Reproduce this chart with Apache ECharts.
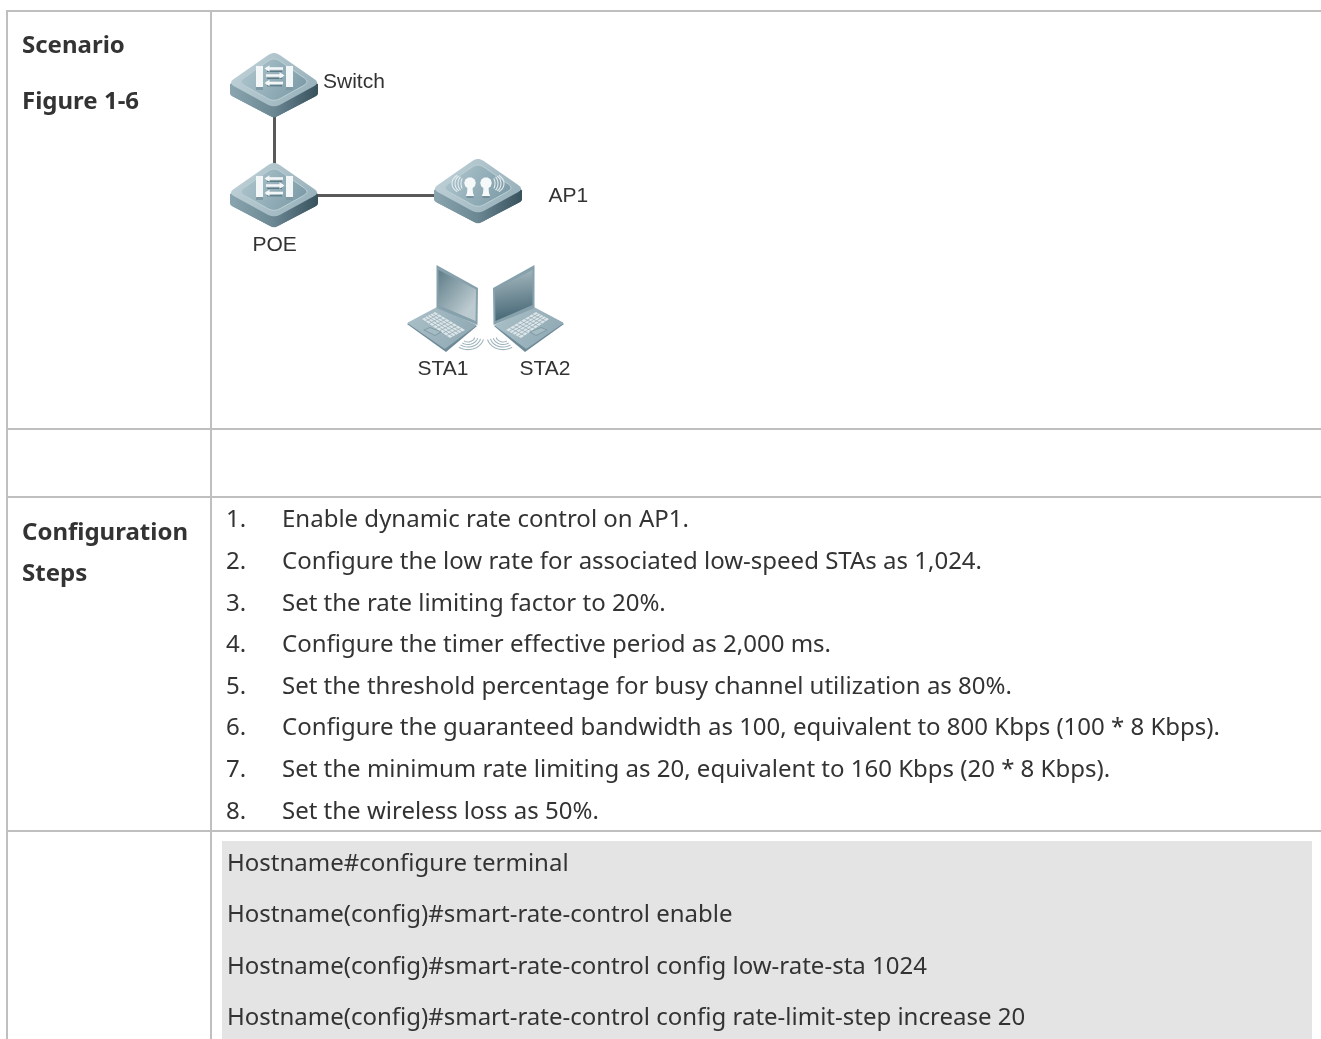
<!DOCTYPE html>
<html><head><meta charset="utf-8">
<style>html,body{margin:0;padding:0;background:#fff}#c{width:1321px;height:1039px}</style>
<script src="https://cdn.jsdelivr.net/npm/echarts@6/dist/echarts.min.js"></script>
</head><body><div id="c"></div>
<script>
const nodeNames = ['Switch','POE','AP1','STA1','STA2'];
const nodeKinds = ['switch','switch','ap','laptop','laptopMirror'];
const nodeX = [274,274,478,443,528];
const nodeY = [85,195,195,308,308];
const labelX = [323,252.5,548.5,417.5,519.5];
const labelY = [82.5,245.5,196.5,369.5,369.5];
const links = [[0,1],[1,2]];
const leftHeads = ['Scenario','Figure 1-6','Configuration','Steps'];
const leftHeadY = [46,102,533,574];
const stepNumbers = ['1.','2.','3.','4.','5.','6.','7.','8.'];
const stepTexts = [
 'Enable dynamic rate control on AP1.',
 'Configure the low rate for associated low-speed STAs as 1,024.',
 'Set the rate limiting factor to 20%.',
 'Configure the timer effective period as 2,000 ms.',
 'Set the threshold percentage for busy channel utilization as 80%.',
 'Configure the guaranteed bandwidth as 100, equivalent to 800 Kbps (100 * 8 Kbps).',
 'Set the minimum rate limiting as 20, equivalent to 160 Kbps (20 * 8 Kbps).',
 'Set the wireless loss as 50%.'];
const stepY = [520,562,604,645,687,728,770,812];
const codeLines = [
 'Hostname#configure terminal',
 'Hostname(config)#smart-rate-control enable',
 'Hostname(config)#smart-rate-control config low-rate-sta 1024',
 'Hostname(config)#smart-rate-control config rate-limit-step increase 20'];
const codeY = [864,915,967,1018];
const ruleRows = [11,429,497,831];
const ruleCols = [7,211];

const grad = (x,y,x2,y2,a,b,c) => ({type:'linear',x,y,x2,y2,colorStops:
  c ? [{offset:0,color:a},{offset:.5,color:b},{offset:1,color:c}] : [{offset:0,color:a},{offset:1,color:b}]});

function rounded(pts,r){
  const out=[];const n=pts.length;
  for(let i=0;i<n;i++){
    const p=pts[i],a=pts[(i+n-1)%n],b=pts[(i+1)%n];
    const da=Math.hypot(a[0]-p[0],a[1]-p[1]),db=Math.hypot(b[0]-p[0],b[1]-p[1]);
    const s=[p[0]+(a[0]-p[0])*r/da,p[1]+(a[1]-p[1])*r/da],e=[p[0]+(b[0]-p[0])*r/db,p[1]+(b[1]-p[1])*r/db];
    for(let t=0;t<=1.001;t+=.2){
      out.push([(1-t)*(1-t)*s[0]+2*t*(1-t)*p[0]+t*t*e[0],(1-t)*(1-t)*s[1]+2*t*(1-t)*p[1]+t*t*e[1]]);
    }
  }
  return out;
}
function arcPts(cx,cy,rx,ry,a0,a1){
  const o=[];for(let i=0;i<=10;i++){const a=(a0+(a1-a0)*i/10)*Math.PI/180;o.push([cx+rx*Math.cos(a),cy+ry*Math.sin(a)]);}
  return o;
}
function builder(ox,oy,m){
  const tr=p=>p.map(q=>[ox+m*q[0],oy+q[1]]);
  return {
    poly:(p,fill,z,stroke,lw)=>({type:'polygon',shape:{points:tr(p)},style:{fill,stroke:stroke||null,lineWidth:lw||0},z2:z}),
    line:(p,stroke,lw,z)=>({type:'polyline',shape:{points:tr(p)},style:{fill:null,stroke,lineWidth:lw},z2:z})
  };
}
function deviceBase(b){
  const c=[];
  c.push(b.poly(rounded([[-44,-1],[-44,11],[0,34],[44,11],[44,-1],[0,-31]],5),grad(0,0,1,0,'#86a2ac','#5d7b87','#3a5460'),1));
  c.push(b.poly(rounded([[0,21],[0,34],[44,11],[44,-1]],2),grad(0,0,1,0,'#6a8692','#38525d'),2));
  c.push(b.poly(rounded([[-44,-1],[-44,11],[0,34],[0,21]],2),grad(0,0,1,0,'#8aa5af','#6a8792'),2));
  c.push(b.poly(rounded([[0,-33],[46,-1],[0,24],[-46,-1]],7),grad(0,0,1,1,'#c3d4da','#93adb7'),3));
  c.push(b.poly(rounded([[0,-27],[36,-2],[0,18],[-36,-2]],7),grad(0,0,1,1,'#b2c8d0','#7696a2'),4,'#bccfd5',1));
  return c;
}
function drawSwitch(ox,oy){
  const b=builder(ox,oy,1);const c=deviceBase(b);
  [[-18,-11],[12,19]].forEach(x=>{
    c.push(b.poly([[x[0],-18],[x[1],-18],[x[1],6],[x[0],6]],'#f4f7f8',6));
    c.push(b.poly([[x[0],3],[x[1],3],[x[1],6],[x[0],6]],'#7f9aa4',7));
  });
  [[-15.5,1],[-8.5,-1],[-1,1]].forEach(r=>{
    const y=r[0];const dir=r[1];
    c.push(b.line([[-8,y],[9,y]],'#f4f7f8',2.6,6));
    const t=dir>0?-9.5:10.5, s=dir>0?1:-1;
    c.push(b.poly([[t,y],[t+s*5,y-3.2],[t+s*5,y+3.2]],'#f4f7f8',6));
    c.push(b.line([[-7,y+2.8],[8,y+2.8]],'#4f6d79',1,5));
  });
  return c;
}
function drawAP(ox,oy){
  const b=builder(ox,oy-5,1);const c=deviceBase(b);
  [-8,8].forEach(x=>{
    c.push(b.poly(arcPts(x,-7,5.8,5.8,0,360),'#f6f9fa',6));
    c.push(b.poly([[x-2.4,-4],[x+2.4,-4],[x+3,3],[x+4.2,6],[x-4.2,6],[x-3,3]],'#f6f9fa',6));
    c.push(b.line([[x-3.5,7],[x+3.5,7]],'#58757f',1,5));
  });
  [-1,1].forEach(d=>{
    [[3,6],[6,8],[9,9],[12,10]].forEach(r=>{
      const ang=d>0?[-55,55]:[125,235];
      c.push(b.line(arcPts(d*14,-6.5,r[0],r[1],ang[0],ang[1]),'#e6edf0',1.1,5));
    });
  });
  return c;
}
function drawLaptop(ox,oy,m){
  const b=builder(ox,oy,m);const c=[];
  const sc=m>0?grad(0,0,1,.6,'#5f7d89','#bccbd0'):grad(0,0,.2,1,'#a9bbc1','#466776');
  c.push(b.poly([[-36,16],[-6,0],[34,18],[3,44]],'#6d8a96',1));
  c.push(b.poly(rounded([[-36,15],[-6,-1],[34,17],[2,41]],1.5),grad(0,0,1,1,'#acc1c9','#8ca6b1'),2));
  c.push(b.poly([[-6.5,-43],[35,-20],[34.5,17],[-6.5,0]],'#86a1ab',3));
  c.push(b.poly([[-4.5,-38],[33,-18.5],[32.5,13],[-4.5,-3]],sc,4));
  c.push(b.poly([[-21,11],[-8,4],[22,22],[7,30]],'#dce5e8',4));
  for(let i=1;i<5;i++){
    const t=i/5;
    c.push(b.line([[-21+13*t,11-7*t],[7+15*t,30-8*t]],'#8ea6b0',.7,5));
  }
  for(let i=1;i<8;i++){
    const t=i/8;
    c.push(b.line([[-21+28*t,11+19*t],[-8+30*t,4+18*t]],'#8ea6b0',.7,5));
  }
  c.push(b.poly([[-20,22],[-13,19],[-1,24],[-8,28]],'#7f9aa5',4));
  c.push(b.poly([[-18,22],[-13,20],[-3,24],[-8,27]],'#a6bcc4',5));
  [7,10,13,16].forEach(r=>{
    c.push(b.line(arcPts(25,28,r,r*.85,15,125),'#9fb5bd',1.1,3));
  });
  return c;
}
function renderNode(params,api){
  const p=api.coord([api.value(0),api.value(1)]);
  const kind=nodeKinds[params.dataIndex];
  let children;
  if(kind==='switch') children=drawSwitch(p[0],p[1]-1);
  else if(kind==='ap') children=drawAP(p[0],p[1]);
  else if(kind==='laptop') children=drawLaptop(p[0],p[1],1);
  else children=drawLaptop(p[0],p[1],-1);
  return {type:'group',children};
}
function renderLabel(params,api){
  const p=api.coord([api.value(0),api.value(1)]);
  return {type:'text',x:p[0],y:p[1],style:{text:nodeNames[params.dataIndex],fontFamily:'Liberation Sans',fontSize:21,fill:'#333333',textAlign:'left',textVerticalAlign:'middle'}};
}
const txt=(x,y,text,extra)=>({type:'text',x,y,silent:true,z:5,style:Object.assign({text,fontFamily:'"Noto Sans"',fontSize:24,fill:'#333333',textAlign:'left',textVerticalAlign:'middle'},extra||{})});
const ruleStyle={stroke:'#bfbfbf',lineWidth:2};
const graphics=[
  {type:'rect',z:1,silent:true,shape:{x:222,y:841,width:1090,height:198},style:{fill:'#e4e4e4'}}
];
ruleRows.forEach(y=>graphics.push({type:'line',z:2,silent:true,shape:{x1:6,y1:y,x2:1321,y2:y},style:ruleStyle}));
ruleCols.forEach(x=>graphics.push({type:'line',z:2,silent:true,shape:{x1:x,y1:10,x2:x,y2:1039},style:ruleStyle}));
leftHeads.forEach((t,i)=>graphics.push(txt(22,leftHeadY[i],t,{fontWeight:'bold'})));
stepNumbers.forEach((t,i)=>graphics.push(txt(226,stepY[i],t)));
stepTexts.forEach((t,i)=>graphics.push(txt(282,stepY[i],t)));
codeLines.forEach((t,i)=>graphics.push(txt(227,codeY[i],t)));

const chart=echarts.init(document.getElementById('c'),null,{renderer:'canvas'});
chart.setOption({
  animation:false,
  backgroundColor:'#ffffff',
  grid:{left:0,top:0,right:0,bottom:0},
  xAxis:{type:'value',min:0,max:1321,show:false},
  yAxis:{type:'value',min:0,max:1039,inverse:true,show:false},
  graphic:{elements:graphics},
  series:[
    {type:'lines',coordinateSystem:'cartesian2d',polyline:false,silent:true,z:2,
     lineStyle:{color:'#595959',width:3,opacity:1},
     data:links.map(l=>({coords:[[nodeX[l[0]],nodeY[l[0]]],[nodeX[l[1]],nodeY[l[1]]]]}))},
    {type:'custom',coordinateSystem:'cartesian2d',silent:true,z:3,clip:false,renderItem:renderNode,
     encode:{x:0,y:1},data:nodeX.map((x,i)=>[x,nodeY[i]])},
    {type:'custom',coordinateSystem:'cartesian2d',silent:true,z:4,clip:false,renderItem:renderLabel,
     encode:{x:0,y:1},data:labelX.map((x,i)=>[x,labelY[i]])}
  ]
});
</script></body></html>
